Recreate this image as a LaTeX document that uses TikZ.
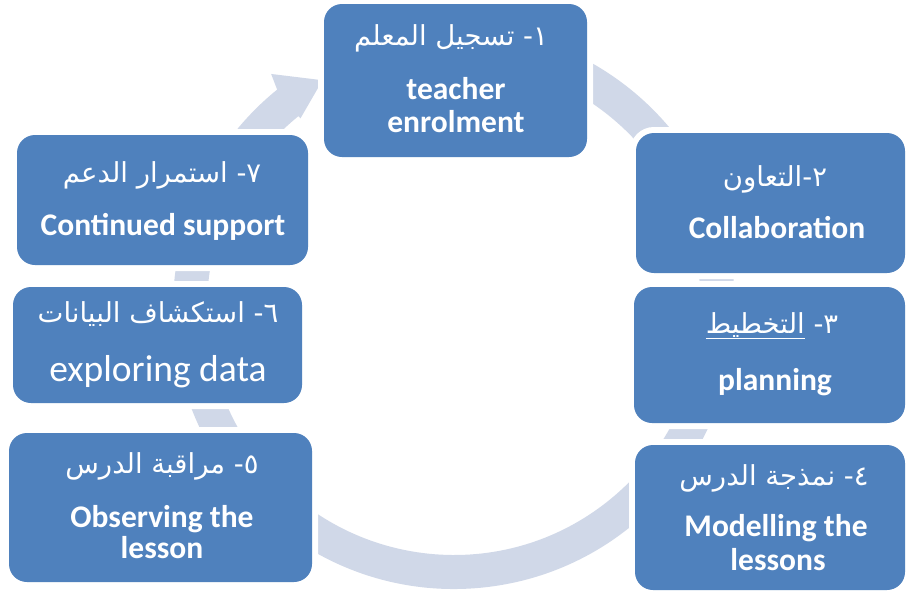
\documentclass[tikz,border=0pt]{standalone}
\usepackage{fontspec}
\setmainfont{Carlito}
\newfontfamily\arabicfont[Script=Arabic]{DejaVu Sans}
\TeXXeTstate=1
\usetikzlibrary{calc}
\definecolor{boxblue}{HTML}{4F81BD}
\definecolor{ringblue}{HTML}{D0D8E8}
\tikzset{
  stepbox/.style={rounded corners=18pt, fill=boxblue, preaction={draw=white, line width=12pt}, inner sep=0pt},
  artxt/.style={font=\arabicfont\fontsize{27.5}{32}\selectfont, text=white, anchor=base, inner sep=0pt},
  entxt/.style={font=\bfseries\fontsize{31.5}{36}\selectfont, text=white, anchor=base, inner sep=0pt},
  enreg/.style={font=\fontsize{37.5}{42}\selectfont, text=white, anchor=base, inner sep=0pt}
}
\begin{document}
\begin{tikzpicture}[x=1pt, y=-1pt]
\useasboundingbox (0,0) rectangle (907,592);
\fill[white] (0,0) rectangle (907,592);
\coordinate (c) at (454,308);
% circular arrow ring
\fill[ringblue] ($(c)+(-95:281)$) arc[start angle=-95, end angle=231, radius=281]
  -- ($(c)+(232:297)$) -- ($(c)+(240:263)$) -- ($(c)+(231:244)$)
  -- ($(c)+(231:247)$) arc[start angle=231, end angle=-95, radius=247] -- cycle;
% boxes
\node[stepbox, minimum width=263pt, minimum height=153pt] (b1) at (455.5,80.5) {};
\node[stepbox, minimum width=269pt, minimum height=140pt] (b2) at (770.5,203) {};
\node[stepbox, minimum width=271pt, minimum height=136pt] (b3) at (769.5,355) {};
\node[stepbox, minimum width=270pt, minimum height=145pt] (b4) at (770,517.5) {};
\node[stepbox, minimum width=303pt, minimum height=149pt] (b5) at (160.5,507.5) {};
\node[stepbox, minimum width=289pt, minimum height=116pt] (b6) at (157.5,345) {};
\node[stepbox, minimum width=291pt, minimum height=130pt] (b7) at (162.5,200) {};
% texts
\node[artxt] (a1) at (451,45) {\beginR ١- تسجيل المعلم\endR};
\node[entxt] (e1a) at (456,99) {teacher};
\node[entxt] (e1b) at (456,132) {enrolment};
\node[artxt] (a2) at (775,186) {\beginR ٢-التعاون\endR};
\node[entxt] (e2) at (777,238) {Collaboration};
\node[artxt] (a3) at (772,333) {\beginR ٣- \underline{\beginR التخطيط\endR}\endR};
\node[entxt] (e3) at (775,390) {planning};
\node[artxt] (a4) at (774,485) {\beginR ٤- نمذجة الدرس\endR};
\node[entxt] (e4a) at (776,536) {Modelling the};
\node[entxt] (e4b) at (778,570) {lessons};
\node[artxt] (a5) at (162,473) {\beginR ٥- مراقبة الدرس\endR};
\node[entxt] (e5a) at (162,527) {Observing the};
\node[entxt] (e5b) at (162,558) {lesson};
\node[artxt] (a6) at (158,322) {\beginR ٦- استكشاف البيانات\endR};
\node[enreg] (e6) at (158,381) {exploring data};
\node[artxt] (a7) at (162,182) {\beginR ٧- استمرار الدعم\endR};
\node[entxt] (e7) at (163,235) {Continued support};
\end{tikzpicture}
\end{document}
